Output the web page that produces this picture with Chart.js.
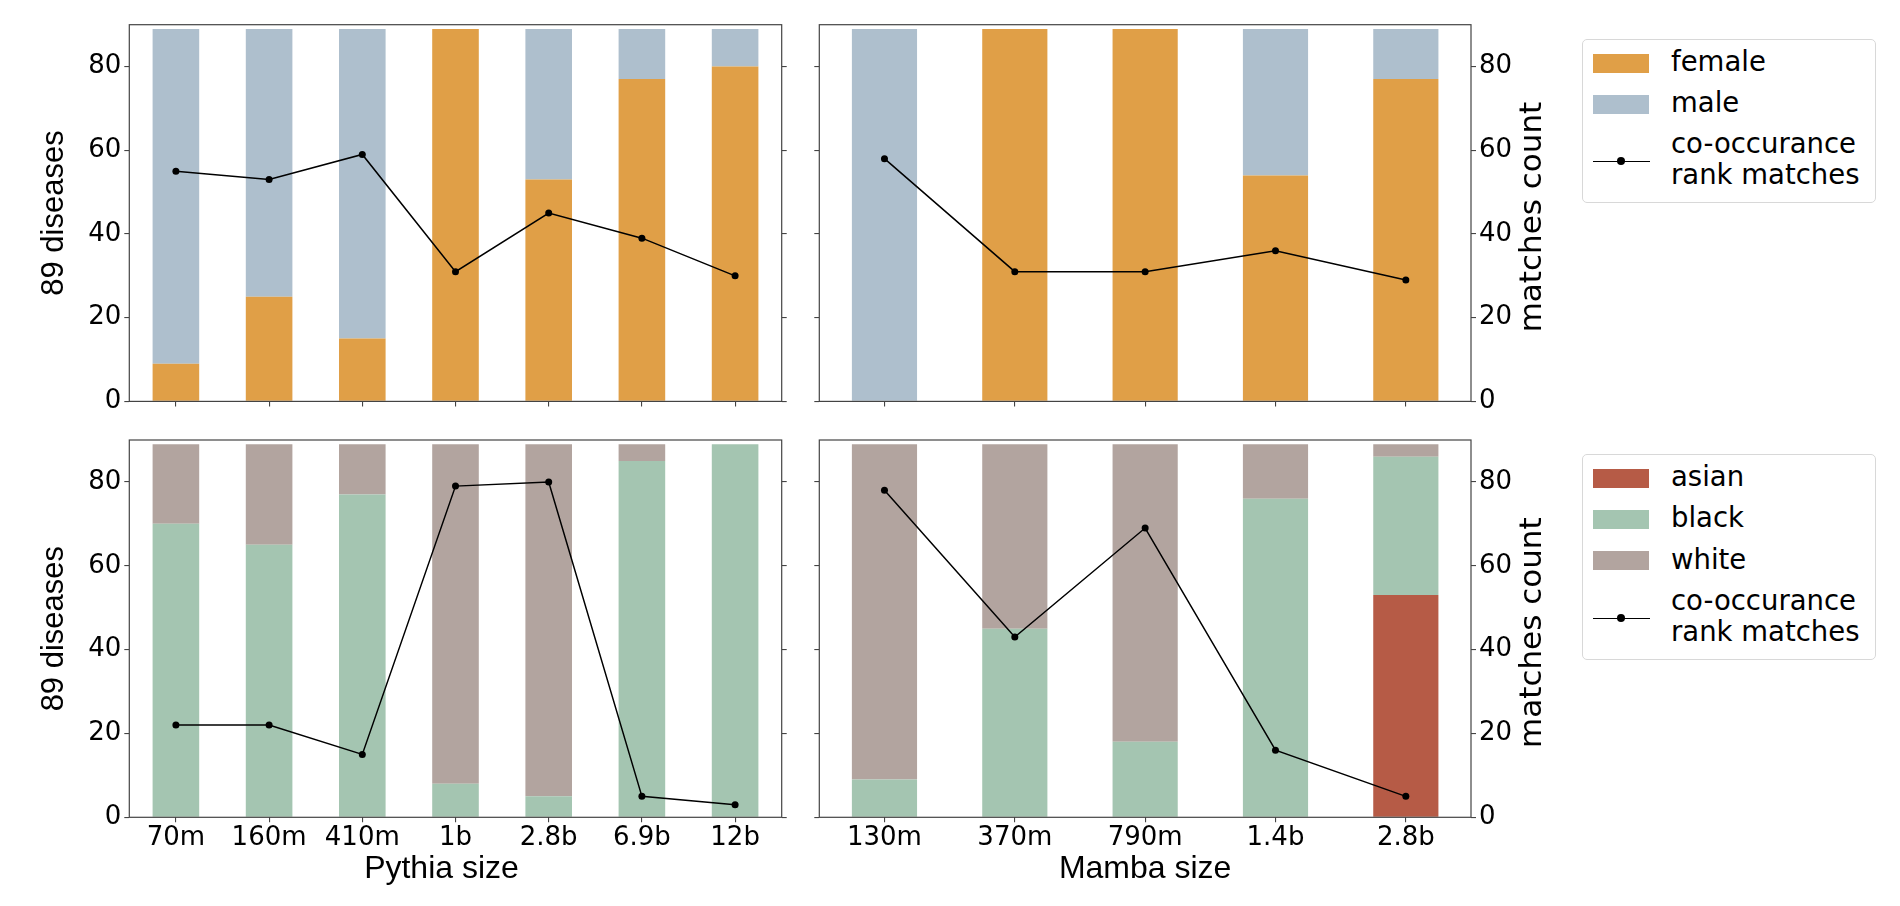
<!DOCTYPE html>
<html>
<head>
<meta charset="utf-8">
<script src="https://cdn.jsdelivr.net/npm/chart.js@4.4.1/dist/chart.umd.min.js"></script>
<style>
  html, body { margin: 0; padding: 0; background: #fff; width: 1900px; height: 906px; overflow: hidden; }
  canvas { position: absolute; }
  .legend { position: absolute; border: 1px solid #d8d8d8; border-radius: 5px; background: #fff;
            font-family: "DejaVu Sans", sans-serif; font-size: 27.5px; color: #000; box-sizing: border-box; }
  .row { position: absolute; left: 0; right: 0; }
  .sw { position: absolute; left: 10px; width: 56px; height: 19px; }
  .ln { position: absolute; left: 10px; width: 57px; height: 0; border-top: 1.5px solid #000; }
  .dot { position: absolute; left: 24px; top: -5px; width: 8px; height: 8px; border-radius: 50%; background: #000; }
  .tx { position: absolute; left: 88px; white-space: nowrap; line-height: 31px; }
</style>
</head>
<body>
<canvas id="c1"></canvas>
<canvas id="c2"></canvas>
<canvas id="c3"></canvas>
<canvas id="c4"></canvas>
<div id="leg1" class="legend"></div>
<div id="leg2" class="legend"></div>
<script>
// ---------------- data ----------------
const pythiaSizes = ['70m', '160m', '410m', '1b', '2.8b', '6.9b', '12b'];
const mambaSizes = ['130m', '370m', '790m', '1.4b', '2.8b'];

const pythiaFemale = [9, 25, 15, 89, 53, 77, 80];
const pythiaMale = [80, 64, 74, 0, 36, 12, 9];
const pythiaGenderMatches = [55, 53, 59, 31, 45, 39, 30];

const mambaFemale = [0, 89, 89, 54, 77];
const mambaMale = [89, 0, 0, 35, 12];
const mambaGenderMatches = [58, 31, 31, 36, 29];

const pythiaAsian = [0, 0, 0, 0, 0, 0, 0];
const pythiaBlack = [70, 65, 77, 8, 5, 85, 89];
const pythiaWhite = [19, 24, 12, 81, 84, 4, 0];
const pythiaRaceMatches = [22, 22, 15, 79, 80, 5, 3];

const mambaAsian = [0, 0, 0, 0, 53];
const mambaBlack = [9, 45, 18, 76, 33];
const mambaWhite = [80, 44, 71, 13, 3];
const mambaRaceMatches = [78, 43, 69, 16, 5];

const genderSeries = ['female', 'male'];
const raceSeries = ['asian', 'black', 'white'];
const lineSeriesLabel = ['co-occurance', 'rank matches'];
const yTickValues = [0, 20, 40, 60, 80];
const yMax = 90;
const leftAxisTitle = '89 diseases';
const rightAxisTitle = 'matches count';
const pythiaTitle = 'Pythia size';
const mambaTitle = 'Mamba size';

// ---------------- styles ----------------
const COLORS = { female: '#E09F47', male: '#AEBFCD', asian: '#B65B46', black: '#A4C5B1', white: '#B2A49F' };
const AXIS_COLOR = '#444';
const TICK_FONT = { family: 'DejaVu Sans', size: 26 };

const framePlugin = {
  id: 'frame',
  afterDraw(chart) {
    const a = chart.chartArea, ctx = chart.ctx;
    ctx.save();
    ctx.strokeStyle = AXIS_COLOR;
    ctx.lineWidth = 1.2;
    ctx.strokeRect(a.left, a.top, a.right - a.left, a.bottom - a.top);
    ctx.restore();
  }
};
const rightTitlePlugin = {
  id: 'rightTitle',
  afterDraw(chart, args, opts) {
    if (!opts || !opts.text) return;
    const a = chart.chartArea, ctx = chart.ctx;
    ctx.save();
    ctx.translate(opts.x, (a.top + a.bottom) / 2 + (opts.dy || 0));
    ctx.rotate(-Math.PI / 2);
    ctx.font = '31px "DejaVu Sans"';
    ctx.fillStyle = '#000';
    ctx.textAlign = 'center';
    ctx.textBaseline = 'middle';
    ctx.fillText(opts.text, 0, 0);
    ctx.restore();
  }
};
const xTitlePlugin = {
  id: 'xTitle',
  afterDraw(chart, args, opts) {
    if (!opts || !opts.text) return;
    const a = chart.chartArea, ctx = chart.ctx;
    ctx.save();
    ctx.font = '32px "Liberation Sans"';
    ctx.fillStyle = '#000';
    ctx.textAlign = 'center';
    ctx.textBaseline = 'middle';
    ctx.fillText(opts.text, (a.left + a.right) / 2 + (opts.dx || 0), opts.y);
    ctx.restore();
  }
};

function makeChart(id, g, labels, bars, line, o) {
  const cv = document.getElementById(id);
  cv.width = g.w; cv.height = g.h;
  cv.style.left = g.x + 'px'; cv.style.top = g.y + 'px';
  cv.style.width = g.w + 'px'; cv.style.height = g.h + 'px';
  const leftW = g.areaL - g.x, rightW = g.x + g.w - g.areaR;
  const topPad = g.areaT - g.y, bottomH = g.y + g.h - g.areaB;

  const datasets = [{
    type: 'line', label: lineSeriesLabel.join(' '), data: line, yAxisID: 'y1', order: 0,
    borderColor: '#000', backgroundColor: '#000', borderWidth: 1.5,
    pointRadius: 3.5, pointBackgroundColor: '#000', pointBorderWidth: 0, tension: 0
  }];
  bars.forEach(b => datasets.push({
    type: 'bar', label: b.label, data: b.data, yAxisID: 'y', order: 1, stack: 's',
    backgroundColor: COLORS[b.label], borderWidth: 0,
    barPercentage: 0.5, categoryPercentage: 1.0
  }));

  const tickGrid = { display: true, drawOnChartArea: false, drawTicks: true, tickLength: 5, tickColor: AXIS_COLOR, lineWidth: 1.1 };

  return new Chart(cv, {
    data: { labels, datasets },
    plugins: [framePlugin, rightTitlePlugin, xTitlePlugin],
    options: {
      responsive: false, animation: false, maintainAspectRatio: false,
      layout: { padding: { top: topPad, left: 0, right: 0, bottom: 0 } },
      plugins: {
        legend: { display: false }, tooltip: { enabled: false },
        rightTitle: o.rightTitle ? { text: rightAxisTitle, x: 1533 - g.x, dy: 4 } : {},
        xTitle: o.xTitle ? { text: o.xTitle, dx: o.xTitleDx || 0, y: 869 - g.y } : {}
      },
      scales: {
        x: {
          type: 'category', position: 'bottom', offset: true, stacked: true,
          grid: Object.assign({}, tickGrid, { offset: false }),
          border: { display: false },
          ticks: { display: o.xLabels, font: TICK_FONT, color: '#000', padding: 0, maxRotation: 0, autoSkip: false },
          title: { display: false },
          afterFit: s => { s.height = bottomH; }
        },
        y: {
          type: 'linear', position: 'left', stacked: true, min: 0, max: yMax,
          grid: tickGrid, border: { display: false },
          afterBuildTicks: s => { s.ticks = yTickValues.map(v => ({ value: v })); },
          ticks: { display: o.leftLabels, font: TICK_FONT, color: '#000', padding: 3, includeBounds: false },
          title: o.leftLabels ? { display: true, text: leftAxisTitle, color: '#000',
                 font: { family: 'Liberation Sans', size: 31, lineHeight: 1.2 }, padding: { top: 36, bottom: 0 } } : { display: false },
          afterFit: s => { s.width = leftW; }
        },
        y1: {
          type: 'linear', position: 'right', min: 0, max: yMax,
          grid: tickGrid, border: { display: false },
          afterBuildTicks: s => { s.ticks = yTickValues.map(v => ({ value: v })); },
          ticks: { display: o.rightLabels, font: TICK_FONT, color: '#000', padding: 3, includeBounds: false },
          afterFit: s => { s.width = rightW; }
        }
      }
    }
  });
}

const gTL = { x: 0, y: 0, w: 800, h: 420, areaL: 129.3, areaR: 781.7, areaT: 24.7, areaB: 401.7 };
const gTR = { x: 790, y: 0, w: 800, h: 420, areaL: 819.3, areaR: 1471, areaT: 24.7, areaB: 401.7 };
const gBL = { x: 0, y: 420, w: 800, h: 486, areaL: 129.3, areaR: 781.7, areaT: 440, areaB: 817.3 };
const gBR = { x: 790, y: 420, w: 800, h: 486, areaL: 819.3, areaR: 1471, areaT: 440, areaB: 817.3 };

makeChart('c1', gTL, pythiaSizes,
  [{ label: 'female', data: pythiaFemale }, { label: 'male', data: pythiaMale }],
  pythiaGenderMatches, { xLabels: false, leftLabels: true, rightLabels: false });
makeChart('c2', gTR, mambaSizes,
  [{ label: 'female', data: mambaFemale }, { label: 'male', data: mambaMale }],
  mambaGenderMatches, { xLabels: false, leftLabels: false, rightLabels: true, rightTitle: true });
makeChart('c3', gBL, pythiaSizes,
  [{ label: 'asian', data: pythiaAsian }, { label: 'black', data: pythiaBlack }, { label: 'white', data: pythiaWhite }],
  pythiaRaceMatches, { xLabels: true, xTitle: pythiaTitle, xTitleDx: -14, leftLabels: true, rightLabels: false });
makeChart('c4', gBR, mambaSizes,
  [{ label: 'asian', data: mambaAsian }, { label: 'black', data: mambaBlack }, { label: 'white', data: mambaWhite }],
  mambaRaceMatches, { xLabels: true, xTitle: mambaTitle, leftLabels: false, rightLabels: true, rightTitle: true });

// ---------------- legends (HTML, built from series names) ----------------
function buildLegend(id, box, series) {
  const el = document.getElementById(id);
  el.style.left = box.x + 'px'; el.style.top = box.y + 'px';
  el.style.width = box.w + 'px'; el.style.height = box.h + 'px';
  const rowGap = 41.3;
  let cy = box.first;
  series.forEach(name => {
    const r = document.createElement('div'); r.className = 'row'; r.style.top = (cy - box.y) + 'px';
    const sw = document.createElement('div'); sw.className = 'sw'; sw.style.top = '-9.5px'; sw.style.background = COLORS[name];
    const tx = document.createElement('div'); tx.className = 'tx'; tx.style.top = '-17px'; tx.textContent = name;
    r.appendChild(sw); r.appendChild(tx); el.appendChild(r);
    cy += rowGap;
  });
  const lineCenter = cy - 41.3 + 57;
  const r = document.createElement('div'); r.className = 'row'; r.style.top = (lineCenter - box.y) + 'px';
  const ln = document.createElement('div'); ln.className = 'ln'; ln.style.top = '0px';
  const dot = document.createElement('div'); dot.className = 'dot'; ln.appendChild(dot);
  const tx = document.createElement('div'); tx.className = 'tx'; tx.style.top = '-33px';
  tx.innerHTML = lineSeriesLabel.map(s => '<div>' + s + '</div>').join('');
  r.appendChild(ln); r.appendChild(tx); el.appendChild(r);
}
buildLegend('leg1', { x: 1582, y: 39, w: 294, h: 164, first: 62 }, genderSeries);
buildLegend('leg2', { x: 1582, y: 454, w: 294, h: 206, first: 477 }, raceSeries);
</script>
</body>
</html>
